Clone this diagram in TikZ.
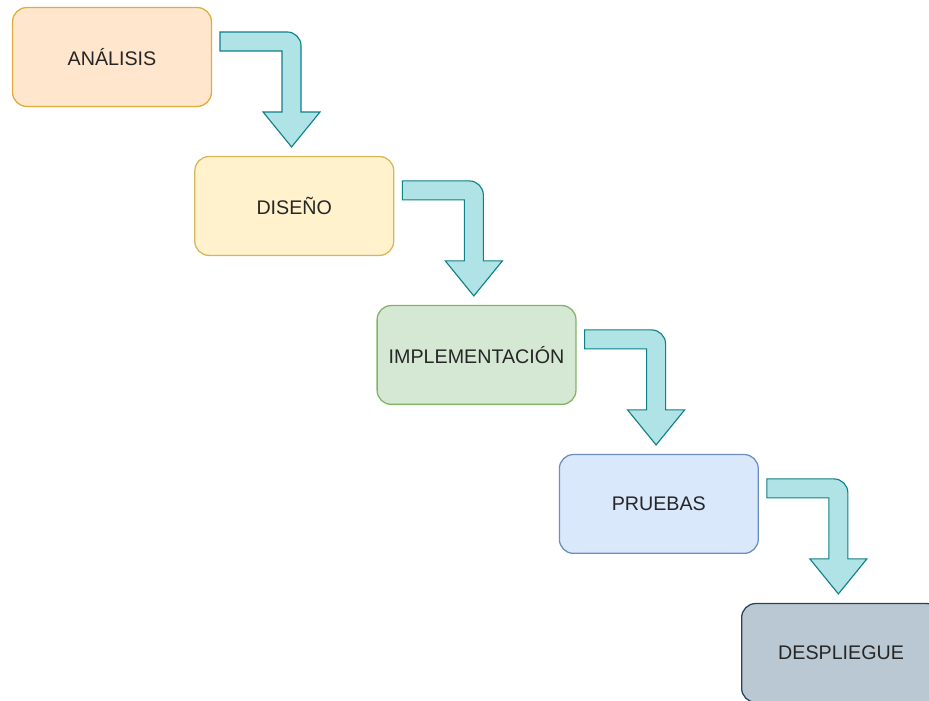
\documentclass[tikz,border=0pt]{standalone}
\usepackage{fontspec}
\setmainfont{Liberation Sans}
\usetikzlibrary{positioning}

\definecolor{anaFill}{HTML}{FFE6CC}\definecolor{anaLine}{HTML}{E0AC3A}
\definecolor{disFill}{HTML}{FFF2CC}\definecolor{disLine}{HTML}{D6B656}
\definecolor{impFill}{HTML}{D5E8D4}\definecolor{impLine}{HTML}{82B366}
\definecolor{pruFill}{HTML}{DAE8FC}\definecolor{pruLine}{HTML}{6C8EBF}
\definecolor{desFill}{HTML}{BAC8D3}\definecolor{desLine}{HTML}{23445D}
\definecolor{flowFill}{HTML}{B0E3E6}\definecolor{flowLine}{HTML}{0E8088}

\newcommand{\PHgapy}{1.222cm}
\newcommand{\PHgapx}{-0.446cm}

\begin{document}
\begin{tikzpicture}[x=0.025cm, y=-0.025cm,
	phase/.style={draw, line width=0.9pt, rounded corners=10pt, minimum width=4.97cm,
		minimum height=2.47cm, inner sep=0pt, text=black!85,
		font=\fontsize{14}{16}\selectfont},
	flow/.style={fill=flowFill, draw=flowLine, line width=0.8pt, line join=miter}]

	\useasboundingbox (0,0) rectangle (929,701);

	%The phases
	\node[phase, fill=anaFill, draw=anaLine] (ana) at (112,57) {ANÁLISIS};
	\node[phase, fill=disFill, draw=disLine, anchor=north west,
		below right=\PHgapy and \PHgapx of ana.south east] (dis) {DISEÑO};
	\node[phase, fill=impFill, draw=impLine, anchor=north west,
		below right=\PHgapy and \PHgapx of dis.south east] (imp) {IMPLEMENTACIÓN};
	\node[phase, fill=pruFill, draw=pruLine, anchor=north west,
		below right=\PHgapy and \PHgapx of imp.south east] (pru) {PRUEBAS};
	\node[phase, fill=desFill, draw=desLine, anchor=north west,
		below right=\PHgapy and \PHgapx of pru.south east] (des) {DESPLIEGUE};

	%The bent arrows between the phases
	\foreach \a in {ana,dis,imp,pru}{
		\begin{scope}[shift={(\a.north east)}]
			\draw[flow] (8,25) -- (75,25) .. controls (82.7,25) and (89,31.3) .. (89,39) -- (89,105)
				-- (108,105) -- (79.5,140) -- (51,105) -- (70,105) -- (70,44) -- (8,44) -- cycle;
		\end{scope}
	}

\end{tikzpicture}
\end{document}
